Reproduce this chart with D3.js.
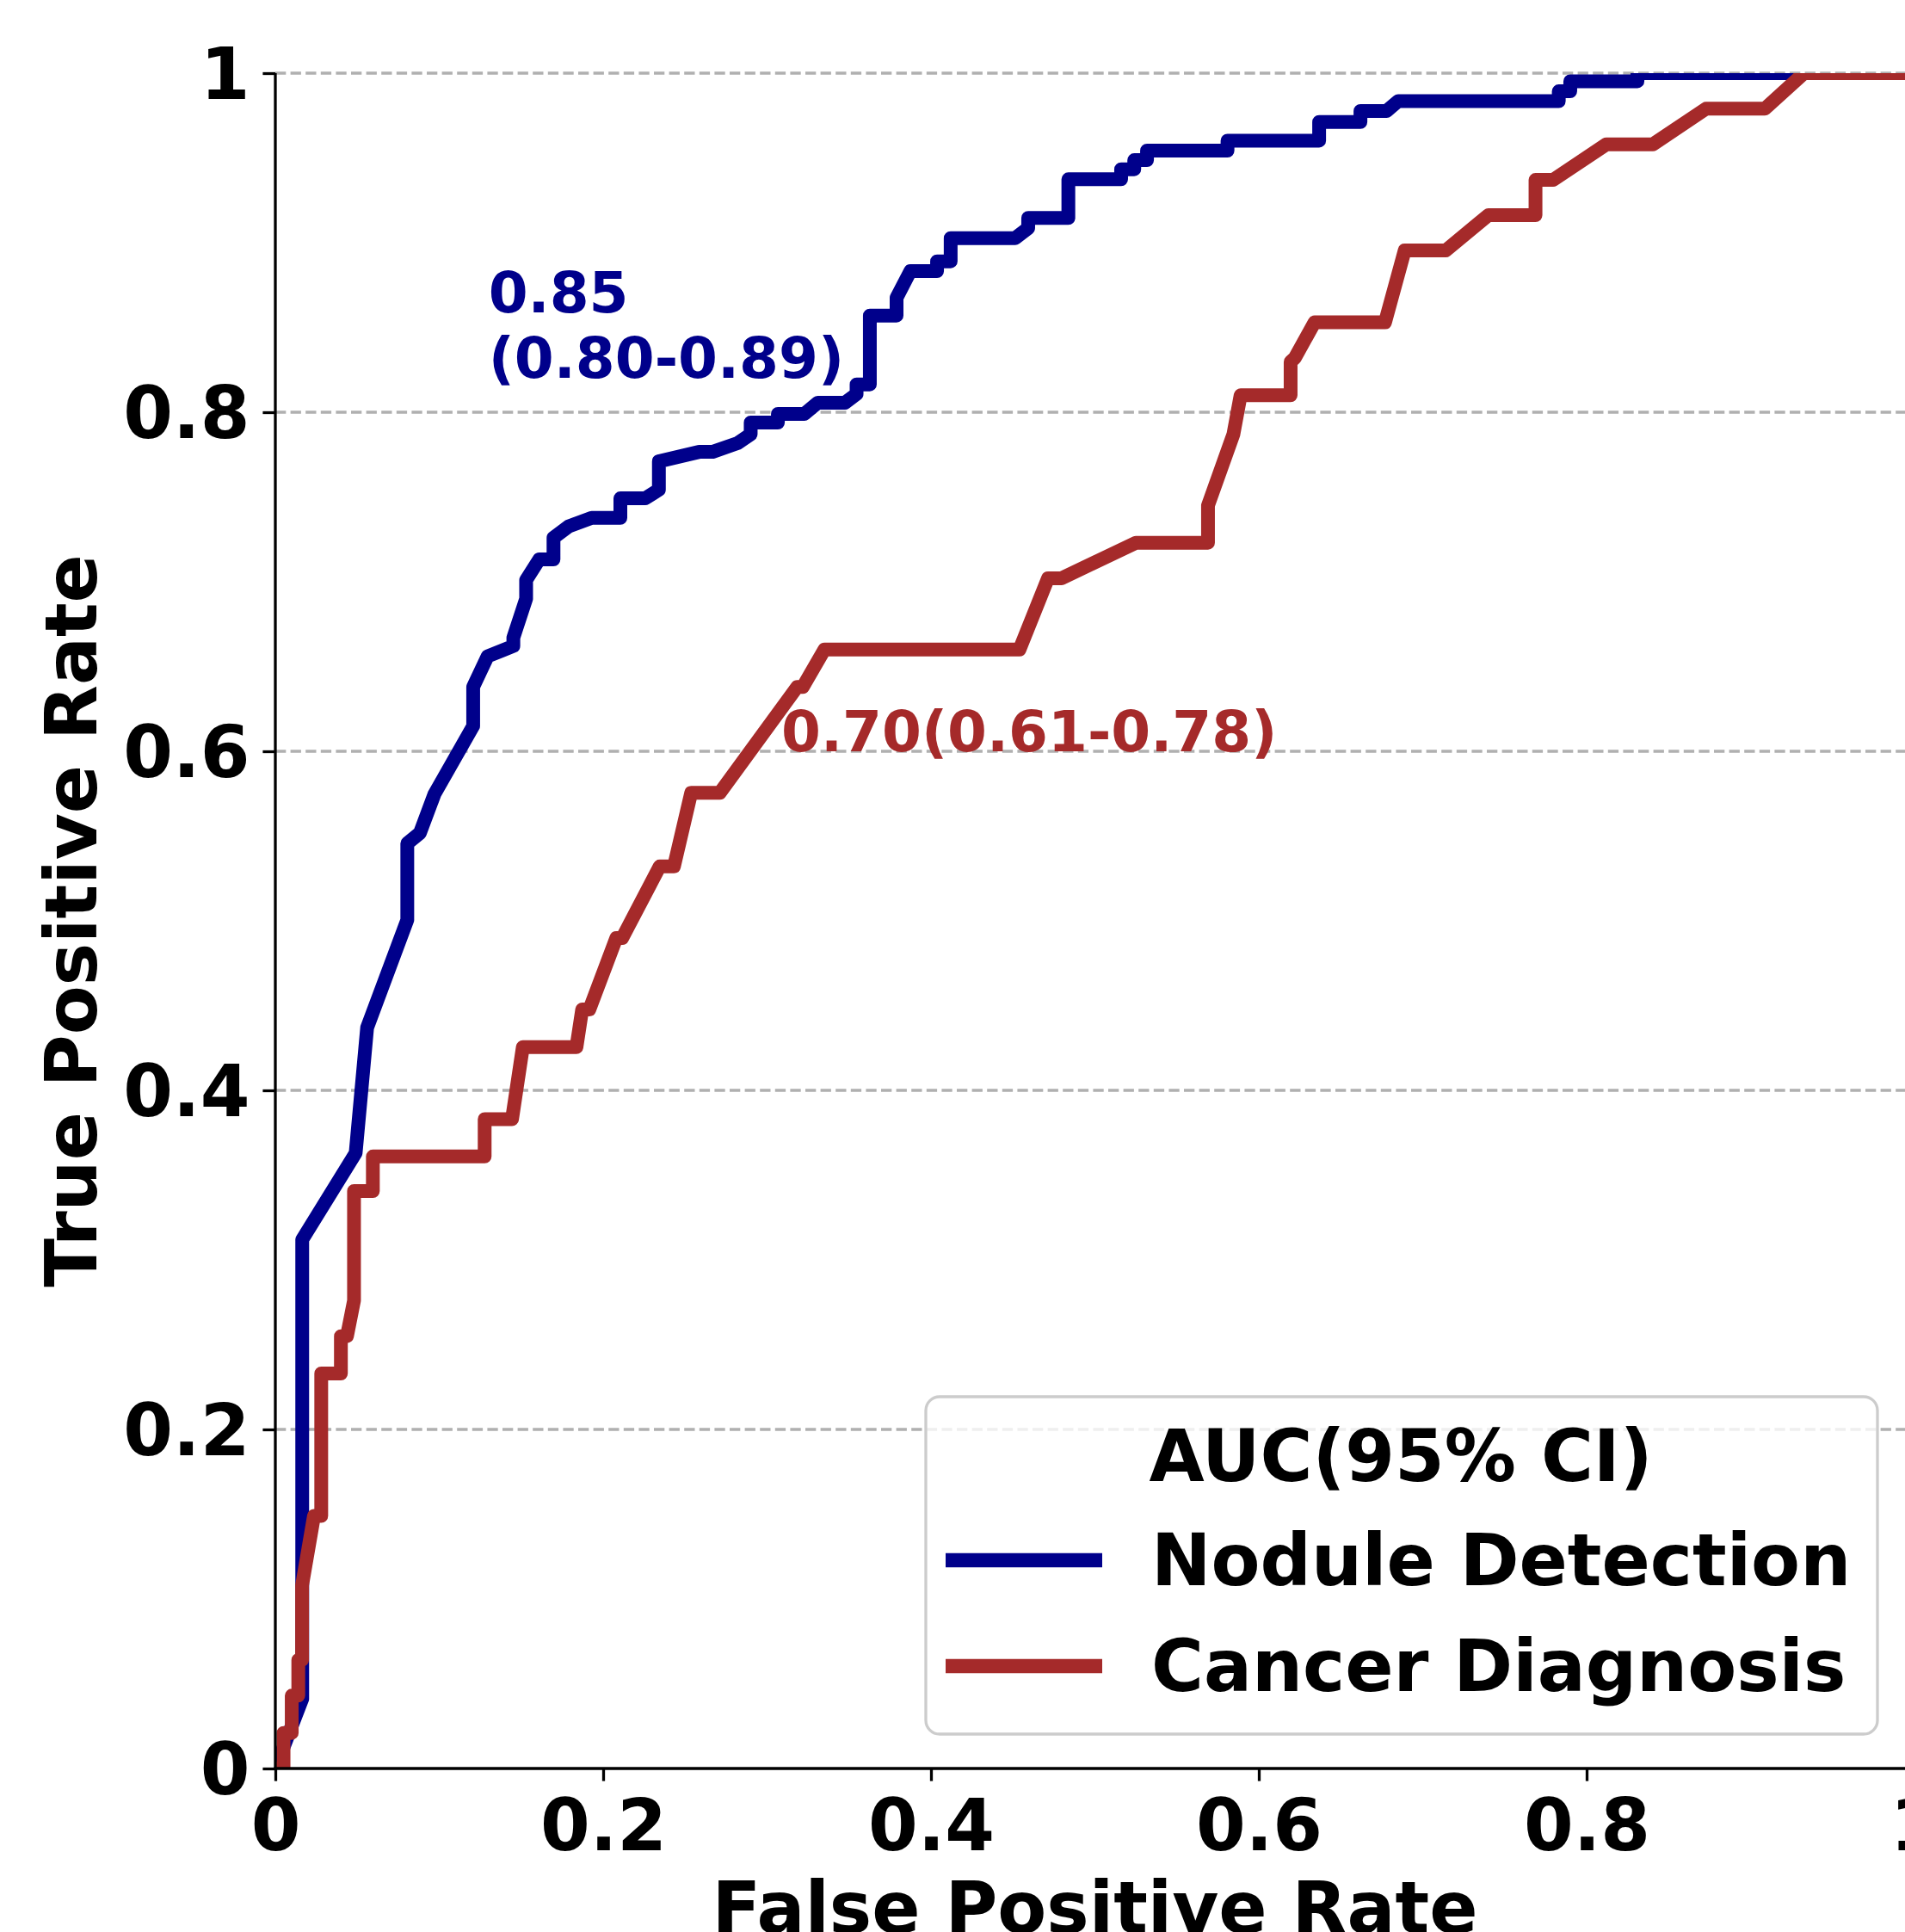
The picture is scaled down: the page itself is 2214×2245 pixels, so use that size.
<!DOCTYPE html>
<html>
<head>
<meta charset="utf-8">
<script src="https://cdnjs.cloudflare.com/ajax/libs/d3/7.8.5/d3.min.js"></script>
<style>
	body { margin: 0; background: #fff; }
	svg { display: block; font-family: "DejaVu Sans", sans-serif; font-weight: bold; }
	.tick line { stroke: #000; stroke-width: 3.3; }
	.domain { stroke: none; }
	.tick text { font-family: "DejaVu Sans", sans-serif; font-size: 83px; fill: #000; font-weight: bold; }
</style>
</head>
<body>
<svg class="chart"></svg>
<script>
// ROC curves (false positive rate, true positive rate)
var nodule_fpr = [0, 0.0164, 0.0164, 0.049, 0.056, 0.0805, 0.0805, 0.0882, 0.0971, 0.1207,
	0.1207, 0.1295, 0.1452, 0.1452, 0.153, 0.153, 0.161, 0.1697, 0.1697, 0.1788,
	0.193, 0.2105, 0.2105, 0.2257, 0.234, 0.234, 0.2585, 0.2667, 0.2819, 0.290,
	0.290, 0.3066, 0.3066, 0.3228, 0.331, 0.3475, 0.3546, 0.3546, 0.3627, 0.3627,
	0.379, 0.379, 0.3874, 0.4037, 0.4037, 0.412, 0.412, 0.4514, 0.4593, 0.4593,
	0.4838, 0.4838, 0.516, 0.516, 0.524, 0.524, 0.5318, 0.5318, 0.5809, 0.5809,
	0.6368, 0.6368, 0.662, 0.662, 0.678, 0.685, 0.783, 0.783, 0.790, 0.790,
	0.831, 0.831, 1.0];
var nodule_tpr = [0, 0.041, 0.312, 0.363, 0.437, 0.5005, 0.5457, 0.5518, 0.5748, 0.6149,
	0.638, 0.656, 0.6621, 0.667, 0.690, 0.701, 0.7132, 0.7132, 0.7259, 0.7326,
	0.7377, 0.7377, 0.7492, 0.7492, 0.7543, 0.771, 0.7766, 0.7766, 0.7817, 0.787,
	0.7939, 0.7939, 0.799, 0.799, 0.8056, 0.8056, 0.8107, 0.8164, 0.8164, 0.857,
	0.857, 0.8675, 0.8832, 0.8832, 0.889, 0.889, 0.9027, 0.9027, 0.9086, 0.9146,
	0.9146, 0.9374, 0.9374, 0.9433, 0.9433, 0.9487, 0.9487, 0.9543, 0.9543, 0.9602,
	0.9602, 0.9712, 0.9712, 0.9777, 0.9777, 0.9835, 0.9835, 0.9893, 0.9893, 0.9952,
	0.9952, 1.0, 1.0];

var cancer_fpr = [0, 0.005, 0.005, 0.010, 0.010, 0.014, 0.014, 0.0163, 0.0163, 0.0236,
	0.028, 0.028, 0.040, 0.040, 0.0437, 0.048, 0.048, 0.0595, 0.0595, 0.1277,
	0.1277, 0.1444, 0.151, 0.1837, 0.1872, 0.1916, 0.208, 0.2116, 0.2345, 0.2432,
	0.2537, 0.2712, 0.3184, 0.3218, 0.335, 0.454, 0.4714, 0.4796, 0.525, 0.569,
	0.569, 0.5845, 0.5889, 0.6194, 0.6194, 0.622, 0.634, 0.677, 0.689, 0.714,
	0.740, 0.7688, 0.7688, 0.7795, 0.812, 0.8404, 0.8728, 0.9087, 0.9326, 1.0];
var cancer_tpr = [0, 0, 0.021, 0.021, 0.043, 0.043, 0.064, 0.064, 0.108, 0.149,
	0.149, 0.233, 0.233, 0.255, 0.255, 0.276, 0.3406, 0.3406, 0.361, 0.361,
	0.383, 0.383, 0.4255, 0.4255, 0.4477, 0.4477, 0.4898, 0.4898, 0.5321, 0.5321,
	0.5755, 0.5755, 0.638, 0.638, 0.660, 0.660, 0.702, 0.702, 0.723, 0.723,
	0.745, 0.787, 0.81, 0.81, 0.8297, 0.832, 0.853, 0.853, 0.8954, 0.8954,
	0.9162, 0.9162, 0.937, 0.937, 0.958, 0.958, 0.979, 0.979, 1.0, 1.0];

var series_names = ["Nodule Detection", "Cancer Diagnosis"];
var series_colors = ["#00008B", "#A52A2A"];
var auc_labels = [["0.85", "(0.80-0.89)"], ["0.70(0.61-0.78)"]];
var auc_label_pos = [[0.130, 0.859], [0.3087, 0.6]];
var tick_values = [0, 0.2, 0.4, 0.6, 0.8, 1];

var width = 2214;
var height = 2245;
// plot box (matplotlib axes), the right edge runs past the canvas
var box = { left: 320, right: 2225, top: 85, bottom: 2055 };

var svg = d3.select(".chart")
	.attr("width", width)
	.attr("height", height);

svg.append("rect")
	.attr("width", width)
	.attr("height", height)
	.attr("fill", "#fff");

var x = d3.scaleLinear().domain([0, 1]).range([box.left, box.right]);
var y = d3.scaleLinear().domain([0, 1]).range([box.bottom, box.top]);

// horizontal dashed grid
svg.append("g")
	.selectAll("line")
	.data(tick_values.slice(1))
.enter().append("line")
	.attr("x1", box.left)
	.attr("x2", box.right)
	.attr("y1", function(d) { return y(d); })
	.attr("y2", function(d) { return y(d); })
	.attr("stroke", "#b0b0b0")
	.attr("stroke-width", 3.3)
	.attr("stroke-dasharray", "12.3,5.3");

// clip curves to the axes box like matplotlib does
svg.append("clipPath")
	.attr("id", "plotclip")
.append("rect")
	.attr("x", box.left)
	.attr("y", box.top)
	.attr("width", box.right - box.left)
	.attr("height", box.bottom - box.top);

var curves = [
	{ fpr: nodule_fpr, tpr: nodule_tpr },
	{ fpr: cancer_fpr, tpr: cancer_tpr }
];

var line = d3.line()
	.x(function(d) { return x(d[0]); })
	.y(function(d) { return y(d[1]); });

svg.append("g")
	.attr("clip-path", "url(#plotclip)")
	.selectAll("path")
	.data(curves)
.enter().append("path")
	.attr("d", function(c) { return line(d3.zip(c.fpr, c.tpr)); })
	.attr("fill", "none")
	.attr("stroke", function(c, i) { return series_colors[i]; })
	.attr("stroke-width", 16)
	.attr("stroke-linejoin", "round")
	.attr("stroke-linecap", "square");

// axes
var fmt = function(d) { return d3.format("~g")(d); };

var xaxis = svg.append("g")
	.attr("transform", "translate(0," + box.bottom + ")")
	.call(d3.axisBottom(x).tickValues(tick_values).tickFormat(fmt)
		.tickSize(14.6).tickPadding(21));
xaxis.attr("font-family", null).attr("font-size", null);
xaxis.selectAll("text").attr("dy", "0.71em");

var yaxis = svg.append("g")
	.attr("transform", "translate(" + box.left + ",0)")
	.call(d3.axisLeft(y).tickValues(tick_values).tickFormat(fmt)
		.tickSize(14.6).tickPadding(15));
yaxis.attr("font-family", null).attr("font-size", null);
yaxis.selectAll("text").attr("dy", "0.36em");

// spines
svg.append("line")
	.attr("x1", box.left).attr("x2", box.left)
	.attr("y1", box.top).attr("y2", box.bottom + 1.6)
	.attr("stroke", "#000").attr("stroke-width", 3.3);
svg.append("line")
	.attr("x1", box.left - 1.6).attr("x2", box.right)
	.attr("y1", box.bottom).attr("y2", box.bottom)
	.attr("stroke", "#000").attr("stroke-width", 3.3);

// axis titles
svg.append("text")
	.attr("x", (box.left + box.right) / 2)
	.attr("y", 2246)
	.attr("text-anchor", "middle")
	.attr("font-size", 83)
	.text("False Positive Rate");

svg.append("text")
	.attr("transform", "translate(112," + (box.top + box.bottom) / 2 + ") rotate(-90)")
	.attr("text-anchor", "middle")
	.attr("font-size", 83)
	.text("True Positive Rate");

// AUC annotations
auc_labels.forEach(function(lines, i) {
	var t = svg.append("text")
		.attr("fill", series_colors[i])
		.attr("font-size", 66);
	lines.forEach(function(s, k) {
		t.append("tspan")
			.attr("x", x(auc_label_pos[i][0]))
			.attr("y", y(auc_label_pos[i][1]) + k * 76)
			.text(s);
	});
});

// legend
var legend = svg.append("g");
legend.append("rect")
	.attr("x", 1076)
	.attr("y", 1623)
	.attr("width", 1106)
	.attr("height", 392)
	.attr("rx", 16)
	.attr("fill", "#fff")
	.attr("fill-opacity", 0.8)
	.attr("stroke", "#cccccc")
	.attr("stroke-width", 3.3);

legend.append("text")
	.attr("x", 1628)
	.attr("y", 1721)
	.attr("text-anchor", "middle")
	.attr("font-size", 83)
	.text("AUC(95% CI)");

var item = legend.selectAll(".item")
	.data(series_names)
.enter().append("g")
	.attr("class", "item")
	.attr("transform", function(d, i) { return "translate(0," + (1813 + i * 123) + ")"; });

item.append("line")
	.attr("x1", 1099)
	.attr("x2", 1281)
	.attr("stroke", function(d, i) { return series_colors[i]; })
	.attr("stroke-width", 16.5);

item.append("text")
	.attr("x", 1338)
	.attr("y", 29)
	.attr("font-size", 83)
	.text(function(d) { return d; });
</script>
</body>
</html>
